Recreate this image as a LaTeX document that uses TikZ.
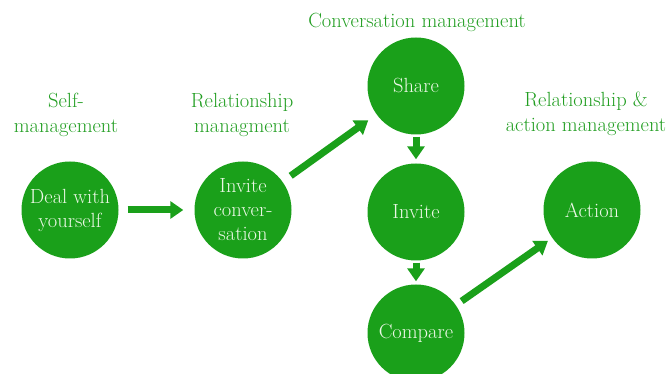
\documentclass[tikz,border=0pt]{standalone}
\usepackage{fontspec}
\usetikzlibrary{arrows.meta}

\definecolor{leaf}{RGB}{26,160,26}
\definecolor{leaftext}{RGB}{34,158,34}
\definecolor{pale}{RGB}{236,248,230}

\begin{document}
\begin{tikzpicture}[x=1pt, y=-1pt,
    stage/.style={circle, fill=leaf, minimum size=97pt, inner sep=0pt,
      text=pale, align=center, font=\fontsize{20.5}{24}\selectfont},
    phase/.style={text=leaftext, align=center, font=\fontsize{20.5}{25}\selectfont},
    flow/.style={draw=leaf, line width=7pt, -{Triangle[length=13pt, width=17pt]}}]
  \useasboundingbox (0,0) rectangle (670,374);
  \begin{scope}
    \clip (0,0) rectangle (670,374);
    % the stages
    \node[stage] (deal)    at (70,210)  {Deal with\\yourself};
    \node[stage] (invconv) at (243,210) {Invite\\conver-\\sation};
    \node[stage] (share)   at (416,86)  {Share};
    \node[stage] (invite)  at (416,212) {Invite};
    \node[stage] (compare) at (416,333) {Compare};
    \node[stage] (action)  at (592,210) {Action};
  \end{scope}
  % headings over each group
  \node[phase] (selfm) at (66,115)  {Self-\\management};
  \node[phase] (relm)  at (242,115) {Relationship\\managment};
  \node[phase] (convm) at (417,22)  {Conversation management};
  \node[phase] (actm)  at (586,114) {Relationship \&\\action management};
  % arrows
  \draw[flow, shorten <=9pt, shorten >=11pt] (deal) -- (invconv);
  \draw[flow, shorten <=10pt, shorten >=10pt] (invconv) -- (share);
  \draw[flow, shorten <=2pt, shorten >=4pt] (share) -- (invite);
  \draw[flow, shorten <=2pt, shorten >=3pt] (invite) -- (compare);
  \draw[flow, shorten <=7pt, shorten >=5pt] (compare) -- (action);
\end{tikzpicture}
\end{document}
